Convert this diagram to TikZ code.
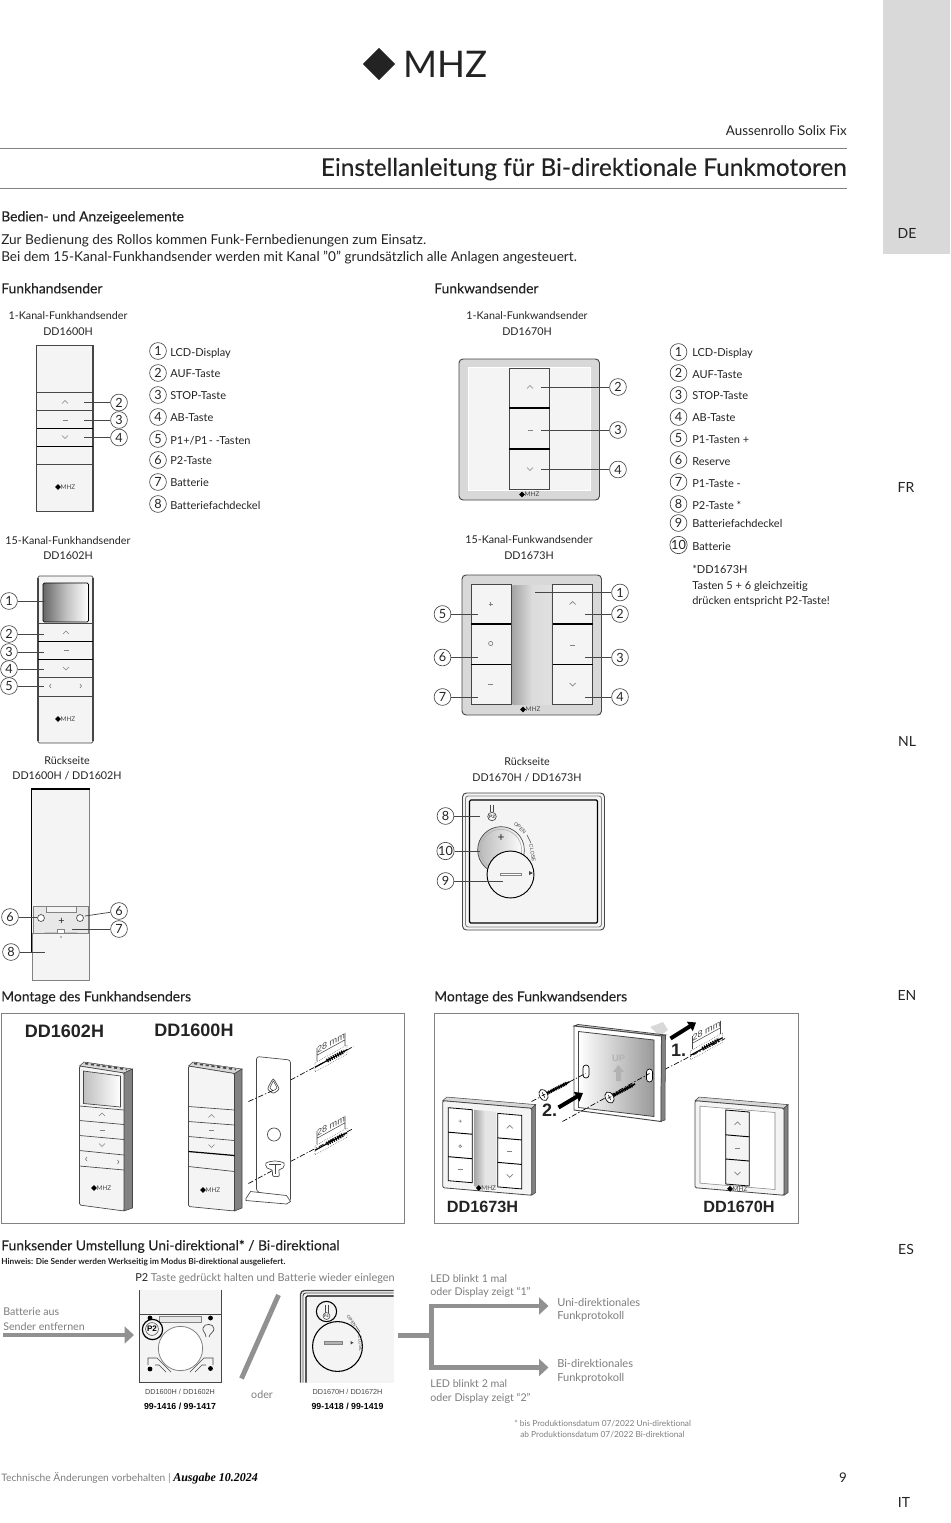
\documentclass[tikz,border=0pt]{standalone}
\usepackage{fontspec}
\setmainfont{Lato}[Ligatures=NoCommon]
\newfontfamily\medfont{Lato}[FakeBold=0.25,Ligatures=NoCommon]
\newfontfamily\arialfont{Liberation Sans}
\newfontfamily\timesfont{Liberation Serif}
\usetikzlibrary{calc}
\usetikzlibrary{arrows.meta}
\usetikzlibrary{shapes.geometric}
\definecolor{band}{RGB}{217,217,217}
\definecolor{rl}{RGB}{130,130,130}
\definecolor{tx}{RGB}{35,35,35}
\definecolor{fc}{RGB}{244,244,244}
\definecolor{bd}{RGB}{70,70,70}
\definecolor{fr}{RGB}{216,216,216}
\definecolor{ga}{RGB}{145,145,145}
\definecolor{lt}{RGB}{125,125,125}

\begin{document}
\begin{tikzpicture}[
    x=0.75pt,y=-0.75pt,
    t/.style={inner sep=0,anchor=west,yshift=-1.5pt,text=tx,execute at begin node=\strut,font=\fontsize{8.25}{9.9}\selectfont},
    tc/.style={t,anchor=center,font=\fontsize{8.05}{9.7}\selectfont},
    h/.style={t,font=\medfont\fontsize{10.4}{12.5}\selectfont},
    g/.style={t,text=lt,font=\fontsize{8}{9.6}\selectfont},
    lang/.style={tc,font=\fontsize{10.5}{12.6}\selectfont},
    ar/.style={tc,font=\arialfont\bfseries\fontsize{13.5}{16}\selectfont},
    ars/.style={tc,font=\arialfont\bfseries\fontsize{12.2}{14}\selectfont},
    capn/.style={tc,text=bd,font=\arialfont\fontsize{5.45}{6.5}\selectfont},
    capb/.style={tc,text=black,font=\arialfont\bfseries\fontsize{6.6}{8}\selectfont},
    n/.style={circle,draw=bd,line width=0.5pt,inner sep=0,minimum size=12.6pt,text=tx,font=\fontsize{9.5}{10}\selectfont},
    l/.style={line width=0.55pt,color=bd},
    dev/.style={fill=fc,draw=bd,line width=0.5pt},
    btn/.style={draw=bd,line width=0.7pt},
    btnk/.style={draw=black,line width=1pt},
    sym/.style={draw=rl,line width=0.5pt},
    rdg/.style={bd,line width=1.3pt,dash pattern=on 2.4pt off 2pt},
    dd/.style={line width=0.5pt,black,dash pattern=on 4pt off 1.5pt on 1pt off 1.5pt},
    ga1/.style={ga,line width=3.7pt},
    gat/.style={ga1,-{Triangle[length=7pt,width=12.5pt]}},
    kt/.style={black,line width=3pt,-{Triangle[length=5.5pt,width=8pt]}},
    opn/.style={inner sep=0,text=bd,font=\arialfont\fontsize{3.9}{5}\selectfont},
    chvup/.pic={\draw [sym] (-3,1.5) -- (0,-1.5) -- (3,1.5);},
    chvdn/.pic={\draw [sym] (-3,-1.5) -- (0,1.5) -- (3,-1.5);},
    mns/.pic={\draw [sym] (-2.5,0) -- (2.5,0);},
    mhzs/.pic={
        \node [diamond,fill=black,inner sep=0,minimum size=4.5pt] (-d) at (-8,0) {};
        \node [inner sep=0,text=bd,font=\fontsize{4.8}{5}\selectfont] (-t) at (2,0) {MHZ};
    },
    dowel/.pic={
        \draw [draw=bd,line width=0.4pt,densely dotted,fill=white] (-16,-4.5) rectangle (16,4.5);
        \draw [black,line width=0.9pt] (-16,0) -- (16,0);
        \draw [black,line width=3pt,dash pattern=on 0.9pt off 0.9pt] (-4,0) -- (13,0);
        \draw [bd,line width=0.4pt] (-14,-5) -- (-14,-18) (14,-5) -- (14,-18) (-14,-11) -- (14,-11);
        \node [inner sep=0,text=bd,font=\arialfont\fontsize{6.8}{8}\selectfont,transform shape] (-m) at (0,-16) {28 mm};
    },
    screw/.pic={
        \draw [black,line width=1.2pt] (0,0) -- (29,0);
        \draw [black,line width=2.6pt,dash pattern=on 0.8pt off 0.6pt] (4,0) -- (26,0);
        \draw [fill=white,draw=black,line width=0.5pt] (0,0) ellipse (3pt and 4.5pt);
        \draw [black,line width=0.4pt] (-2,0) -- (2,0) (0,-3) -- (0,3);
    }
]

    \useasboundingbox (0,0) rectangle (950,1523);

    % head of page
    \fill [band] (883,0) rectangle (950,254);
    \node [lang] (lde) at (907,233) {DE};
    \node [lang] (lfr) at (906,487) {FR};
    \node [lang] (lnl) at (907,741) {NL};
    \node [lang] (len) at (907,995) {EN};
    \node [lang] (les) at (906,1249) {ES};
    \node [lang] (lit) at (904,1502) {IT};

    \node [diamond,fill=tx,inner sep=0,minimum size=24.5pt] (logo) at (379,64) {};
    \node [t,anchor=center,yshift=-3pt,font=\fontsize{27.5}{30}\selectfont] (mhz) at (445.5,64) {MHZ};

    \node [t,anchor=east,font=\fontsize{10.05}{12}\selectfont] (prod) at (847,130) {Aussenrollo Solix Fix};
    \draw [rl,line width=0.6pt] (0,148.5) -- (847,148.5);
    \node [t,anchor=east,font=\medfont\fontsize{18.3}{22}\selectfont] (titel) at (847,168) {Einstellanleitung für Bi-direktionale Funkmotoren};
    \draw [rl,line width=0.6pt] (0,188) -- (847,188);

    \node [h] (bed) at (1,216) {Bedien- und Anzeigeelemente};
    \node [t,font=\fontsize{10.2}{12}\selectfont] (z1) at (1,239) {Zur Bedienung des Rollos kommen Funk-Fernbedienungen zum Einsatz.};
    \node [t,font=\fontsize{10.2}{12}\selectfont] (z2) at (1,256) {Bei dem 15-Kanal-Funkhandsender werden mit Kanal "0" grundsätzlich alle Anlagen angesteuert.};

    \node [h] (fh) at (1,288) {Funkhandsender};
    \node [h] (fw) at (434,288) {Funkwandsender};

    % 1-Kanal-Funkhandsender
    \node [tc] (a0) at (68,315) {1-Kanal-Funkhandsender};
    \node [tc] (a00) at (68,331) {DD1600H};
    \draw [dev] (36.5,345) rectangle (93,511);
    \draw [bd,line width=1pt] (36.5,345) -- (36.5,511) (93,345) -- (93,511);
    \draw [btn] (37,392.5) -- (93,392.5) (37,410) -- (93,410) (37,464.5) -- (93,464.5);
    \draw [btnk] (37,428.5) -- (93,428.5) (37,446.5) -- (93,446.5);
    \pic at (65,402) {chvup};
    \pic at (65,420) {mns};
    \pic at (65,437) {chvdn};
    \pic (am) at (66,487) {mhzs};
    \coordinate (a2k) at (84,402.5);
    \coordinate (a3k) at (84,420);
    \coordinate (a4k) at (84,437.5);
    \node [n] (a2) at (119,402.5) {2};
    \node [n] (a3) at (119,420) {3};
    \node [n] (a4) at (119,437.5) {4};
    \draw (a2) edge [l] (a2k);
    \draw (a3) edge [l] (a3k);
    \draw (a4) edge [l] (a4k);

    \node [n] (h1) at (158,351) {1};
    \node [n] (h2) at (158,373) {2};
    \node [n] (h3) at (158,395) {3};
    \node [n] (h4) at (158,417) {4};
    \node [n] (h5) at (158,439) {5};
    \node [n] (h6) at (158,460) {6};
    \node [n] (h7) at (158,482) {7};
    \node [n] (h8) at (158,504) {8};
    \node [t] (ht1) at (170,351.5) {LCD-Display};
    \node [t] (ht2) at (170,373) {AUF-Taste};
    \node [t] (ht3) at (170,395) {STOP-Taste};
    \node [t] (ht4) at (170,416.5) {AB-Taste};
    \node [t] (ht5) at (170,439.5) {P1+/P1{\kern1pt}{-} -Tasten};
    \node [t] (ht6) at (170,460) {P2-Taste};
    \node [t] (ht7) at (170,482) {Batterie};
    \node [t] (ht8) at (170,505) {Batteriefachdeckel};

    % 15-Kanal-Funkhandsender
    \node [tc] (b0) at (68,540) {15-Kanal-Funkhandsender};
    \node [tc] (b00) at (68,555) {DD1602H};
    \draw [dev,rounded corners=1pt] (38,576) rectangle (93,743);
    \draw [bd,line width=1pt] (38,578) -- (38,741) (93,578) -- (93,741);
    \shade [left color=black!60,right color=white,middle color=black!25,draw=black,line width=0.5pt,rounded corners=1pt] (43,583) rectangle (88.5,622);
    \draw [btn] (38,623.5) -- (93,623.5) (38,677) -- (93,677) (38,696) -- (93,696);
    \draw [btnk] (38,641.5) -- (93,641.5) (38,659.5) -- (93,659.5);
    \pic at (66,632.5) {chvup};
    \pic at (66,650) {mns};
    \pic at (66,668.5) {chvdn};
    \draw [sym] (51,684) -- (49.5,686) -- (51,688) (80,684) -- (81.5,686) -- (80,688);
    \pic (bm) at (66,719) {mhzs};
    \coordinate (b1k) at (45,601);
    \coordinate (b2k) at (44,634);
    \coordinate (b3k) at (44,652);
    \coordinate (b4k) at (44,669);
    \coordinate (b5k) at (44,686);
    \node [n] (b1) at (9,601) {1};
    \node [n] (b2) at (9,634) {2};
    \node [n] (b3) at (9,652) {3};
    \node [n] (b4) at (9,669) {4};
    \node [n] (b5) at (9,686) {5};
    \draw (b1) edge [l] (b1k);
    \draw (b2) edge [l] (b2k);
    \draw (b3) edge [l] (b3k);
    \draw (b4) edge [l] (b4k);
    \draw (b5) edge [l] (b5k);

    % Rueckseite Funkhandsender
    \node [tc] (c0) at (67,760) {Rückseite};
    \node [tc] (c00) at (67,775) {DD1600H / DD1602H};
    \draw [fill=fc,draw=none] (31.5,789) rectangle (89.5,952);
    \draw [rl,line width=0.8pt] (89.5,952) -- (89.5,789);
    \draw [black,line width=1.1pt] (89.5,789) -- (31.5,789) -- (31.5,952);
    \draw [fill=black!9,draw=rl,line width=0.5pt] (33.5,906) rectangle (88,934);
    \draw [fill=fc,draw=rl,line width=0.5pt] (46,906) rectangle (76,912);
    \shade [left color=black!25,right color=white,draw=rl,line width=0.5pt] (45,933) arc (180:0:16) -- cycle;
    \draw [draw=rl,fill=white,line width=0.5pt] (57,929) rectangle (64,933);
    \node [inner sep=0,text=tx,font=\fontsize{8}{9}\selectfont] (cp) at (61.5,921) {+};
    \draw [bd,line width=0.5pt,fill=white] (41,918) circle (2.6pt);
    \draw [bd,line width=0.5pt,fill=white] (80,918) circle (2.6pt);
    \draw [fill=fc,draw=rl,line width=0.5pt] (32.5,933.5) rectangle (89,980);
    \fill [rl] (61,937) circle (0.7pt);
    \coordinate (c6k) at (37,917);
    \coordinate (c6m) at (85,916);
    \coordinate (c7k) at (72,929);
    \coordinate (c8k) at (45,952);
    \node [n] (c6) at (10,917) {6};
    \node [n] (c6r) at (119,911) {6};
    \node [n] (c7) at (119,929) {7};
    \node [n] (c8) at (11,952) {8};
    \draw (c6) edge [l] (c6k);
    \draw (c6r) edge [l] (c6m);
    \draw (c7) edge [l] (c7k);
    \draw (c8) edge [l] (c8k);

    % 1-Kanal-Funkwandsender
    \node [tc] (d0) at (527,315) {1-Kanal-Funkwandsender};
    \node [tc] (d00) at (527,331) {DD1670H};
    \draw [fill=fr,draw=bd,line width=0.7pt,rounded corners=3pt] (459,359) rectangle (599.5,500);
    \draw [fill=fc,draw=white,line width=0.5pt] (468.5,367.5) rectangle (590,490.5);
    \draw [fc,fill=fc,draw=bd,line width=0.7pt] (509,368) rectangle (549.5,489.5);
    \draw [btnk] (509,408) -- (549.5,408) (509,449) -- (549.5,449);
    \pic at (530,387) {chvup};
    \pic at (530,430) {mns};
    \pic at (530,469) {chvdn};
    \pic (dm) at (530,494.5) {mhzs};
    \coordinate (d2k) at (541,387);
    \coordinate (d3k) at (541,430);
    \coordinate (d4k) at (541,469.5);
    \node [n] (d2) at (618,387) {2};
    \node [n] (d3) at (618,430) {3};
    \node [n] (d4) at (618,469.5) {4};
    \draw (d2) edge [l] (d2k);
    \draw (d3) edge [l] (d3k);
    \draw (d4) edge [l] (d4k);

    \node [n] (w1) at (678.5,352) {1};
    \node [n] (w2) at (678.5,373) {2};
    \node [n] (w3) at (678.5,395) {3};
    \node [n] (w4) at (678.5,417) {4};
    \node [n] (w5) at (678.5,438) {5};
    \node [n] (w6) at (678.5,460) {6};
    \node [n] (w7) at (678.5,482) {7};
    \node [n] (w8) at (678.5,504) {8};
    \node [n] (w9) at (678.5,523) {9};
    \node [n] (w10) at (678.5,545) {10};
    \node [t] (wt1) at (692,351.5) {LCD-Display};
    \node [t] (wt2) at (692,373.5) {AUF-Taste};
    \node [t] (wt3) at (692,395) {STOP-Taste};
    \node [t] (wt4) at (692,417) {AB-Taste};
    \node [t] (wt5) at (692,438.5) {P1-Tasten +};
    \node [t] (wt6) at (692,461) {Reserve};
    \node [t] (wt7) at (692,482.5) {P1-Taste -};
    \node [t] (wt8) at (692,504.5) {P2-Taste *};
    \node [t] (wt9) at (692,523) {Batteriefachdeckel};
    \node [t] (wt10) at (692,546) {Batterie};
    \node [t] (wn1) at (692,569) {*DD1673H};
    \node [t] (wn2) at (692,585) {Tasten 5 + 6 gleichzeitig};
    \node [t] (wn3) at (692,600) {drücken entspricht P2-Taste!};

    % 15-Kanal-Funkwandsender
    \node [tc] (e0) at (529,539) {15-Kanal-Funkwandsender};
    \node [tc] (e00) at (529,555) {DD1673H};
    \draw [fill=fr,draw=bd,line width=0.7pt,rounded corners=3pt] (462,575) rectangle (601.5,715);
    \shade [left color=black!35,right color=black!12,middle color=black!14] (512.5,585.5) rectangle (551,704);
    \draw [fill=fc,draw=bd,line width=0.7pt] (471,584) rectangle (511,704.5);
    \draw [fill=fc,draw=bd,line width=0.7pt] (552.5,584) rectangle (592.5,704.5);
    \draw [btnk] (471,624) -- (511,624) (471,664.5) -- (511,664.5) (552.5,624) -- (592.5,624) (552.5,664.5) -- (592.5,664.5);
    \draw [sym] (488.5,604) -- (493,604) (490.7,601.7) -- (490.7,606.2);
    \draw [sym] (490.7,643.5) circle (1.6pt);
    \pic at (490.7,684.5) {mns};
    \pic at (572.7,603) {chvup};
    \pic at (572.7,645) {mns};
    \pic at (572.7,684.5) {chvdn};
    \pic (em) at (531,709.5) {mhzs};
    \coordinate (e1k) at (535,592.5);
    \coordinate (e2k) at (585,614);
    \coordinate (e3k) at (585,657.5);
    \coordinate (e4k) at (585,697);
    \coordinate (e5k) at (477.5,614);
    \coordinate (e6k) at (477.5,657.5);
    \coordinate (e7k) at (477.5,697);
    \node [n] (e1) at (620,592.5) {1};
    \node [n] (e2) at (620,614) {2};
    \node [n] (e3) at (620,657.5) {3};
    \node [n] (e4) at (620,697) {4};
    \node [n] (e5) at (442.5,614) {5};
    \node [n] (e6) at (442.5,657.5) {6};
    \node [n] (e7) at (442.5,697) {7};
    \draw (e1) edge [l] (e1k);
    \draw (e2) edge [l] (e2k);
    \draw (e3) edge [l] (e3k);
    \draw (e4) edge [l] (e4k);
    \draw (e5) edge [l] (e5k);
    \draw (e6) edge [l] (e6k);
    \draw (e7) edge [l] (e7k);

    % Rueckseite Funkwandsender
    \node [tc] (f0) at (527,761) {Rückseite};
    \node [tc] (f00) at (527,777) {DD1670H / DD1673H};
    \draw [fill=fc,draw=bd,line width=0.7pt,rounded corners=3pt] (462.5,793) rectangle (604.5,930);
    \draw [draw=rl,line width=0.7pt,rounded corners=2pt] (465.5,796) rectangle (601.5,927);
    \draw [fill=fc,draw=black,line width=0.9pt,rounded corners=1pt] (469.5,800) rectangle (597.5,923);
    \shade [left color=black!28,right color=white,draw=bd,line width=0.5pt] (501,850) circle (17.5pt);
    \draw [draw=rl!60,line width=0.5pt] (501,850) circle (15.5pt);
    \node [inner sep=0,text=tx,font=\fontsize{9}{10}\selectfont] (fp) at (501,838) {+};
    \draw [fill=fc,draw=black,line width=0.7pt] (510.5,874.5) circle (17.6pt);
    \draw [fill=white,draw=rl,line width=0.6pt] (500,873) rectangle (521.5,875.5);
    \fill [bd] (529,871) -- (533,873) -- (529,875) -- cycle;
    \draw [bd,line width=0.5pt] (492,816.5) circle (3.2pt);
    \node [inner sep=0,text=bd,font=\arialfont\bfseries\fontsize{3.6}{4}\selectfont] (fp2) at (492,816.5) {P2};
    \draw [bd,line width=0.5pt] (490.5,805) -- (490.5,812) (493.5,805) -- (493.5,812);
    \node [opn,rotate=-45] (fo) at (520,828) {OPEN};
    \draw [bd,line width=0.4pt] (527,835) -- (531,843);
    \node [opn,rotate=-80] (fc1) at (532.5,853) {CLOSE};
    \coordinate (f8k) at (480,816);
    \coordinate (f10k) at (480,851);
    \coordinate (f9k) at (503,881);
    \node [n] (f8) at (445.5,816) {8};
    \node [n] (f10) at (445.5,851) {10};
    \node [n] (f9) at (445.5,881) {9};
    \draw (f8) edge [l] (f8k);
    \draw (f10) edge [l] (f10k);
    \draw (f9) edge [l] (f9k);

    % Montage Funkhandsender
    \node [h] (mh) at (1,996) {Montage des Funkhandsenders};
    \node [h] (mw) at (434,996) {Montage des Funkwandsenders};
    \draw [rl,line width=0.7pt] (1,1013.5) rectangle (404.5,1223.5);
    \node [ar] (g2) at (64.5,1031) {DD1602H};
    \node [ar] (g0) at (194,1030) {DD1600H};

    \draw [fill=fr,draw=bd,line width=0.4pt] (79.5,1066) -- (84,1062) -- (132.5,1069) -- (124,1073) -- cycle;
    \draw [rdg] (85,1063.5) -- (127,1069.5);
    \draw [fill=rl,draw=bd,line width=0.4pt] (124,1073) -- (132.5,1069) -- (132.5,1208) -- (124,1211) -- cycle;
    \draw [fill=fc,draw=bd,line width=0.5pt,rounded corners=1pt] (79.5,1066) -- (124,1073) -- (124,1211) -- (79.5,1205) -- cycle;
    \shade [left color=black!25,right color=white,draw=bd,line width=0.5pt] (83.5,1071) -- (120.5,1076) -- (120.5,1107) -- (83.5,1103.5) -- cycle;
    \draw [btn,line width=0.5pt] (79.5,1106) -- (124,1110) (79.5,1120.5) -- (124,1124.5) (79.5,1135.5) -- (124,1139.5) (79.5,1150.5) -- (124,1155) (79.5,1166) -- (124,1170);
    \pic at (102,1114.5) {chvup};
    \pic at (102,1130) {mns};
    \pic at (102,1145) {chvdn};
    \draw [sym] (87,1157) -- (85.5,1159) -- (87,1161) (117.5,1160) -- (119,1162) -- (117.5,1164);
    \pic (gm) at (102,1188) {mhzs};

    \draw [fill=fr,draw=bd,line width=0.4pt] (188.5,1066) -- (193,1062) -- (242,1069) -- (234.5,1073.5) -- cycle;
    \draw [rdg] (194,1063.5) -- (236,1069.5);
    \draw [fill=rl,draw=bd,line width=0.4pt] (234.5,1073.5) -- (242,1069) -- (242,1208) -- (234.5,1211) -- cycle;
    \draw [fill=fc,draw=bd,line width=0.5pt,rounded corners=1pt] (188.5,1066) -- (234.5,1073.5) -- (234.5,1211) -- (188.5,1206.5) -- cycle;
    \draw [btn,line width=0.5pt] (188.5,1106.5) -- (234.5,1110) (188.5,1121.5) -- (234.5,1125) (188.5,1136.5) -- (234.5,1140.5) (188.5,1166.5) -- (234.5,1171.5);
    \draw [black,line width=0.9pt] (188.5,1151.5) -- (234.5,1155.5);
    \pic at (211.5,1116) {chvup};
    \pic at (211.5,1130.5) {mns};
    \pic at (211.5,1146) {chvdn};
    \pic (hm) at (211,1190) {mhzs};

    % Wandhalter
    \coordinate (ka) at (248.5,1101.5);
    \coordinate (kb) at (274,1090);
    \coordinate (kc) at (290.5,1080);
    \coordinate (kd) at (353.5,1046.5);
    \coordinate (ta) at (248.5,1183.5);
    \coordinate (tb) at (273.5,1170);
    \coordinate (tc1) at (290.5,1161.5);
    \coordinate (td) at (353.5,1128.5);
    \pic [yslant=0.55] (do1) at (331,1058.5) {dowel};
    \pic [yslant=0.55] (do2) at (331,1141.5) {dowel};
    \draw [dd] (kc) -- (kd);
    \draw [dd] (tc1) -- (td);
    \draw [fill=white,draw=bd,line width=0.5pt,rounded corners=2pt] (256.5,1056.5) -- (290.5,1060) -- (290.5,1201.5) -- (256.5,1191.5) -- cycle;
    \draw [fill=white,draw=bd,line width=0.5pt] (246,1198.5) -- (250.5,1191.5) -- (286.5,1195.5) -- (290.5,1201.5) -- (286.5,1204) -- (246,1200.5) -- cycle;
    \draw [draw=bd,line width=0.5pt] plot [smooth cycle] coordinates {(273.3,1079)(270.5,1083)(268,1089)(273.3,1093)(278.8,1089)(276,1083)};
    \draw [draw=bd,line width=0.4pt] plot [smooth cycle] coordinates {(273.3,1081)(271.8,1084)(270,1088)(273.3,1090.5)(276.8,1088)(275,1084)};
    \draw [draw=bd,line width=0.5pt] (274,1134.5) circle (4.9pt);
    \draw [draw=bd,line width=0.5pt] plot [smooth cycle] coordinates {(266,1163)(275,1161)(284,1163)(283,1168)(279,1170)(279,1176)(273,1176)(272,1170)(267,1168)};
    \draw [draw=bd,line width=0.4pt] (269,1164.5) -- (281,1164.5) (275,1164.5) -- (275,1174);
    \draw [dd] (ka) -- (kb);
    \draw [dd] (ta) -- (tb);

    % Montage Funkwandsender
    \draw [rl,line width=0.7pt] (434,1013.5) rectangle (798,1223.5);
    \node [ars] (g3) at (482.5,1207) {DD1673H};
    \node [ars] (g7) at (739,1207) {DD1670H};

    % Platte
    \pic [yslant=0.55] (do3) at (706.5,1046.5) {dowel};
    \coordinate (pa) at (531.5,1101.5);
    \coordinate (pb) at (585.5,1073.5);
    \coordinate (pc) at (562.5,1121.5);
    \coordinate (pd) at (649.5,1073.5);
    \coordinate (pe) at (664.5,1069.5);
    \coordinate (pf) at (725,1038.5);
    \draw [dd] (pe) -- (pf);
    \fill [fr] (650,1027) -- (663,1022) -- (668,1030) -- (660,1036) -- cycle;
    \draw [fill=fr,draw=bd,line width=0.6pt] (574,1026) -- (578,1024.5) -- (665.5,1035) -- (661.5,1036) -- cycle;
    \draw [fill=white,draw=bd,line width=0.7pt] (574,1026) -- (661.5,1036) -- (661,1121.5) -- (574,1110) -- cycle;
    \draw [fill=rl,draw=bd,line width=0.4pt] (661.5,1036) -- (665.5,1035) -- (665,1120) -- (661,1121.5) -- cycle;
    \shade [shading angle=45,left color=white,right color=black!40,draw=bd,line width=0.6pt] (578.5,1031.5) -- (654,1040) -- (654,1116.5) -- (578.5,1107.5) -- cycle;
    \node [inner sep=0,text=black!30,font=\arialfont\bfseries\fontsize{7}{8}\selectfont] (pu) at (618.5,1058.5) {UP};
    \fill [black!30] (618.5,1065) -- (624,1072) -- (621,1072) -- (621,1081) -- (616,1081) -- (616,1072) -- (613,1072) -- cycle;
    \draw [fill=white,draw=black,line width=0.5pt,rounded corners=2.2pt] (583,1065) rectangle (589,1078);
    \draw [fill=white,draw=black,line width=0.5pt,rounded corners=2.2pt] (646.5,1069) rectangle (652.5,1082);
    \draw [dd] (pa) -- (pb);
    \draw [dd] (pc) -- (pd);
    \pic [rotate=27] (sc1) at (543.5,1095) {screw};
    \pic [rotate=28] (sc2) at (609.5,1097.5) {screw};
    \node [ar] (pn1) at (678.5,1050) {1.};
    \node [ar] (pn2) at (549.5,1110) {2.};
    \coordinate (pg) at (670.5,1038.5);
    \coordinate (ph) at (696,1022.5);
    \coordinate (pi1) at (558.5,1107.5);
    \coordinate (pj) at (583,1093);
    \draw [kt] (pg) -- (ph);
    \draw [kt] (pi1) -- (pj);

    % Wandsender links
    \begin{scope}[shift={(442.7,1100.7)},yslant=-0.085]
        \draw [fill=fr,draw=bd,line width=0.4pt] (0,0) -- (4,-4) -- (93,-4) -- (89,0) -- cycle;
        \draw [fill=rl,draw=bd,line width=0.4pt] (89,0) -- (93,-4) -- (93,84) -- (89,87) -- cycle;
        \draw [fill=fc,draw=bd,line width=0.6pt,rounded corners=1pt] (0,0) rectangle (89,87);
        \shade [left color=black!35,right color=black!10,middle color=black!10] (31.5,6.5) rectangle (53.5,83);
        \draw [fill=white,draw=black,line width=0.6pt] (5.5,6.5) rectangle (29.5,79.5);
        \draw [fill=white,draw=black,line width=0.6pt] (55,8) rectangle (79,81.5);
        \draw [black,line width=0.7pt] (5.5,31) -- (29.5,31) (5.5,55.5) -- (29.5,55.5) (55,32.5) -- (79,32.5) (55,57) -- (79,57);
        \draw [sym] (16,19) -- (19,19) (17.5,17.5) -- (17.5,20.5);
        \draw [sym] (17.5,44) circle (1pt);
        \pic at (17.5,67.5) {mns};
        \pic at (67,20.5) {chvup};
        \pic at (67,45) {mns};
        \pic at (67,69.5) {chvdn};
        \pic (lm) at (44,83.5) {mhzs};
    \end{scope}

    % Wandsender rechts
    \begin{scope}[shift={(695,1100.7)},yslant=-0.085]
        \draw [fill=fr,draw=bd,line width=0.4pt] (0,0) -- (4,-4) -- (93,-4) -- (89,0) -- cycle;
        \draw [fill=rl,draw=bd,line width=0.4pt] (89,0) -- (93,-4) -- (93,84) -- (89,87) -- cycle;
        \draw [fill=fc,draw=bd,line width=0.6pt,rounded corners=1pt] (0,0) rectangle (89,87);
        \draw [fill=white,draw=rl,line width=0.4pt] (5,5) rectangle (80,82);
        \draw [fill=fc,draw=black,line width=0.6pt] (30.7,6.7) rectangle (54.3,80.7);
        \draw [black,line width=0.7pt] (30.7,31.5) -- (54.3,31.5) (30.7,55.7) -- (54.3,55.7);
        \pic at (42.5,19) {chvup};
        \pic at (42.5,44) {mns};
        \pic at (42.5,69) {chvdn};
        \pic (rm) at (43,84.5) {mhzs};
    \end{scope}

    % Umstellung
    \node [h] (u0) at (1,1245) {Funksender Umstellung Uni-direktional* / Bi-direktional};
    \node [t,font=\bfseries\fontsize{6.2}{7.5}\selectfont] (u1) at (1,1260) {Hinweis: Die Sender werden Werkseitig im Modus Bi-direktional ausgeliefert.};
    \node [g,anchor=west,font=\fontsize{8.2}{9.8}\selectfont] (u2) at (135,1277) {\textcolor{tx}{P2} Taste gedrückt halten und Batterie wieder einlegen};
    \node [g] (u3) at (3,1311) {Batterie aus};
    \node [g] (u4) at (3,1326) {Sender entfernen};
    \coordinate (ua) at (3,1335);
    \coordinate (ub) at (134,1335);
    \draw [gat] (ua) -- (ub);

    % Bild links
    \fill [fc] (139.5,1290) rectangle (221.5,1382.5);
    \draw [bd,line width=0.9pt] (139.5,1290) -- (139.5,1382.5) -- (221.5,1382.5) -- (221.5,1290);
    \draw [bd,line width=0.6pt] (139.5,1314) -- (221.5,1314);
    \draw [rl,line width=0.4pt,fill=fr!60] (159,1316) rectangle (201.5,1322.5);
    \draw [rl,line width=0.6pt,fill=white] (180.5,1348.5) circle (16.6pt);
    \fill [black] (150,1318) circle (1.8pt);
    \fill [black] (210.5,1318) circle (1.8pt);
    \fill [black] (150,1369) circle (1.8pt);
    \fill [black] (210.5,1368.5) circle (1.8pt);
    \draw [bd,line width=0.5pt] (206,1337) .. controls (206,1333) and (202,1331) .. (203,1328) .. controls (204,1323) and (214,1323) .. (214,1329) .. controls (214,1332) and (210,1333) .. (209,1337);
    \draw [bd,line width=0.5pt] (148,1365) -- (148,1358) -- (157,1358) -- (171,1372) (155,1365) -- (159,1365) -- (166,1372);
    \draw [bd,line width=0.5pt] (213,1365) -- (213,1358) -- (204,1358) -- (190,1372) (206,1365) -- (202,1365) -- (195,1372);
    \draw [black,line width=0.9pt,fill=fc] (152.5,1329.5) circle (7.6pt);
    \draw [bd,line width=0.4pt] (152,1329) circle (4.8pt);
    \node [inner sep=0,text=black,font=\arialfont\bfseries\fontsize{6}{7}\selectfont] (up2) at (152,1329) {P2};
    \node [capn] (uc1) at (180,1390.5) {DD1600H / DD1602H};
    \node [capb] (uc2) at (180,1405) {99-1416 / 99-1417};

    \coordinate (sa) at (278.5,1295);
    \coordinate (sb) at (241.5,1378.5);
    \draw [ga1] (sa) -- (sb);
    \node [g,anchor=center] (uo) at (262,1393.5) {oder};

    % Bild rechts
    \fill [fc] (300,1290) rectangle (393.5,1382.5);
    \draw [bd,line width=1pt,rounded corners=3pt] (300.5,1382.5) -- (300.5,1290.5) -- (393.5,1290.5);
    \draw [bd,line width=0.7pt,rounded corners=2pt] (303,1382.5) -- (303,1293) -- (393.5,1293);
    \draw [black,line width=0.8pt,rounded corners=1pt] (306,1382.5) -- (306,1296) -- (393.5,1296);
    \draw [black,line width=0.8pt,fill=fc] (337.5,1346.5) circle (18.7pt);
    \draw [rl,line width=0.3pt,fill=black!30] (324,1341.5) rectangle (342.5,1344);
    \fill [bd] (350.5,1341) -- (353.5,1342.7) -- (350.5,1344.5) -- cycle;
    \draw [black,line width=0.8pt,fill=fc] (326.5,1311.5) circle (7.6pt);
    \draw [bd,line width=0.4pt] (326.5,1316) circle (2.6pt);
    \draw [bd,line width=0.4pt] (325.2,1305) -- (325.2,1313) (327.8,1305) -- (327.8,1313);
    \node [inner sep=0,text=bd,font=\arialfont\bfseries\fontsize{2.8}{3}\selectfont] (up3) at (326.5,1316) {P2};
    \node [opn,rotate=-55,font=\arialfont\fontsize{3.5}{4}\selectfont] (uop) at (351.5,1321) {OPEN};
    \draw [bd,line width=0.4pt] (356,1326) -- (360,1332);
    \node [opn,rotate=-85,font=\arialfont\fontsize{3.5}{4}\selectfont] (ucl) at (360.5,1343.5) {CLOSE};
    \node [capn] (uc3) at (347.5,1390.5) {DD1670H / DD1672H};
    \node [capb] (uc4) at (347.5,1405) {99-1418 / 99-1419};

    % Pfeile rechts
    \coordinate (va) at (398,1335.5);
    \coordinate (vb) at (431.5,1335.5);
    \coordinate (vu) at (548.5,1306);
    \coordinate (vd) at (548.5,1367.5);
    \draw [ga1] (va) -- (vb);
    \draw [gat] (vb) |- (vu);
    \draw [gat] (vb) |- (vd);
    \node [g] (v1) at (430,1278) {LED blinkt 1 mal};
    \node [g] (v2) at (430,1291) {oder Display zeigt “1”};
    \node [g] (v3) at (430,1383) {LED blinkt 2 mal};
    \node [g] (v4) at (430,1397) {oder Display zeigt “2”};
    \node [g,font=\fontsize{8.3}{10}\selectfont] (v5) at (557,1302) {Uni-direktionales};
    \node [g,font=\fontsize{8.3}{10}\selectfont] (v6) at (557,1315) {Funkprotokoll};
    \node [g,font=\fontsize{8.3}{10}\selectfont] (v7) at (557,1363) {Bi-direktionales};
    \node [g,font=\fontsize{8.3}{10}\selectfont] (v8) at (557,1377) {Funkprotokoll};
    \node [g,font=\fontsize{6.25}{7.5}\selectfont] (v9) at (514,1422) {* bis Produktionsdatum 07/2022 Uni-direktional};
    \node [g,font=\fontsize{6.25}{7.5}\selectfont] (v10) at (520,1433) {ab Produktionsdatum 07/2022 Bi-direktional};

    % Fuss
    \node [g,font=\fontsize{7.7}{9}\selectfont] (fu) at (1,1477) {Technische Änderungen vorbehalten | \textcolor{black}{\timesfont\bfseries\itshape\fontsize{9}{9}\selectfont Ausgabe 10.2024}};
    \node [tc,font=\fontsize{10}{12}\selectfont] (fz) at (843,1477) {9};

\end{tikzpicture}
\end{document}
